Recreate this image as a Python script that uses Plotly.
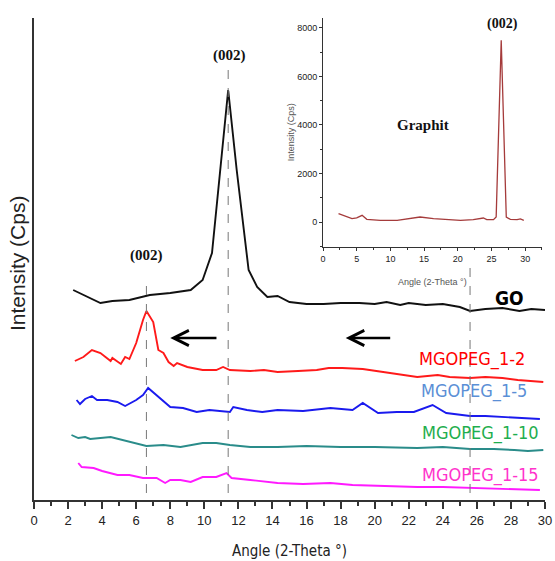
import plotly.graph_objects as go

# ---------------- data (intensity in arbitrary offset units) ----------------
go_x = [2.3, 3.0, 3.9, 4.6, 5.6, 6.8, 8.0, 9.2, 9.9, 10.45, 10.9, 11.4, 11.9, 12.6, 13.1, 13.7, 14.3, 15.0, 16.0,
        17.0, 18.0, 19.1, 20.0, 20.7, 21.5, 22.0, 23.0, 24.0, 25.0, 25.6, 26.5, 27.5, 28.5, 29.2, 30.0]
go_px = [290, 296, 303, 301, 300, 295, 293, 290, 280, 253, 177, 90, 170, 270, 287, 297, 296, 302, 304,
         304, 303, 303, 304, 302, 305, 303, 305, 304, 307, 311, 309, 308, 311, 309, 310]

red_x = [2.4, 2.9, 3.4, 3.9, 4.5, 4.6, 5.1, 5.35, 5.6, 6.0, 6.4, 6.6, 7.0, 7.3, 7.6, 7.9, 8.2, 8.4, 9.0, 9.9,
         10.7, 11.1, 11.5, 12.7, 13.5, 14.3, 15.5, 16.6, 17.3, 18.1, 19.3, 20.5, 21.7, 22.5, 23.7, 24.4, 25.6,
         26.5, 27.5, 28.4, 29.9]
red_px = [361, 357, 350, 353, 361, 358, 364, 357, 359, 343, 320, 311, 322, 350, 353, 362, 366, 363, 367, 370,
          370, 367, 370, 371, 370, 372, 371, 370, 368, 368, 369, 372, 375, 377, 375, 377, 378,
          377, 378, 380, 382]

blue_x = [2.5, 2.7, 3.0, 3.4, 3.7, 4.3, 4.9, 5.35, 6.0, 6.4, 6.7, 7.2, 8.0, 8.75, 9.55, 10.3, 11.5, 11.7, 12.5,
          13.4, 14.3, 15.8, 17.4, 18.7, 19.3, 20.2, 21.3, 22.3, 23.4, 24.2, 25.6, 26.5, 27.5, 28.6, 29.7]
blue_px = [400, 404, 399, 396, 400, 400, 402, 406, 400, 395, 388, 395, 407, 408, 412, 410, 412, 407, 410,
           412, 410, 411, 408, 410, 403, 413, 412, 412, 405, 413, 416, 416, 417, 418, 419]

teal_x = [2.2, 2.6, 3.0, 3.3, 4.5, 5.6, 6.6, 7.6, 8.6, 9.9, 10.7, 11.5, 12.7, 14.3, 16.0, 18.0, 20.0, 22.5,
          24.0, 25.6, 27.0, 28.2, 29.0, 29.9]
teal_px = [435, 438, 437, 439, 437, 442, 446, 445, 447, 443, 443, 445, 447, 447, 446, 447, 447, 448,
           447, 449, 449, 450, 451, 450]

mag_x = [2.6, 2.8, 3.5, 4.0, 4.9, 5.6, 6.4, 7.2, 7.7, 8.0, 8.6, 9.2, 9.9, 10.7, 11.3, 11.6, 12.7, 14.3, 15.8,
         17.4, 18.7, 20.5, 22.5, 24.0, 25.6, 27.5, 29.7]
mag_px = [463, 467, 468, 471, 475, 475, 478, 478, 483, 480, 480, 482, 477, 477, 473, 478, 480, 483, 484,
          483, 485, 486, 487, 487, 488, 489, 490]

# inset: graphite
gr_x = [2.3, 3.3, 4.3, 5.0, 5.8, 6.5, 8.5, 11.0, 13.4, 14.4, 16.4, 18.4, 20.4, 22.3, 23.8, 24.3, 25.3, 25.7,
        26.45, 27.2, 27.8, 28.8, 29.3, 29.8]
gr_y = [345, 235, 140, 170, 275, 110, 70, 70, 180, 205, 140, 95, 70, 95, 165, 95, 95, 205,
        7490, 205, 110, 95, 125, 70]

peak_positions = [6.6, 11.4, 25.6]
x_ticks = list(range(0, 31, 2))
inset_x_ticks = [0, 5, 10, 15, 20, 25, 30]
inset_y_ticks = [0, 2000, 4000, 6000, 8000]

BASE = 500  # offset used to convert read values


def conv(px):
    return [BASE - p for p in px]


fig = go.Figure()
series = [
    ("GO", go_x, go_px, "#111111"),
    ("MGOPEG_1-2", red_x, red_px, "#ff1a1a"),
    ("MGOPEG_1-5", blue_x, blue_px, "#1a1aee"),
    ("MGOPEG_1-10", teal_x, teal_px, "#2a8c8a"),
    ("MGOPEG_1-15", mag_x, mag_px, "#ff1aff"),
]
for name, xs, pxs, col in series:
    fig.add_trace(go.Scatter(x=xs, y=conv(pxs), mode="lines", name=name,
                             line=dict(color=col, width=1.9), showlegend=False))

fig.add_trace(go.Scatter(x=gr_x, y=gr_y, mode="lines", xaxis="x2", yaxis="y2",
                         line=dict(color="#a53b3b", width=1.3), showlegend=False))

# dashed reference lines
dash_tops = [500 - 277, 500 - 70, 500 - 268]
for xp, top in zip(peak_positions, dash_tops):
    fig.add_shape(type="line", x0=xp, x1=xp, y0=7, y1=top, xref="x", yref="y",
                  line=dict(color="#777777", width=1, dash="dash"))

cond = "DejaVu Sans Condensed, Liberation Sans, Arial"
sans = "Liberation Sans, Arial"
serif = "Liberation Serif, Times New Roman, serif"

ann = [
    dict(x=11.45, y=500 - 55, text="<b>(002)</b>", font=dict(family=serif, size=15, color="#111")),
    dict(x=6.6, y=500 - 255, text="<b>(002)</b>", font=dict(family=serif, size=15, color="#111")),
    dict(x=(509 - 34) / 17.03, y=500 - 298, text="<b>GO</b>", font=dict(family=cond, size=19, color="#000")),
    dict(x=(472 - 34) / 17.03, y=500 - 359, text="MGOPEG_1-2", font=dict(family=cond, size=18, color="#ff0000")),
    dict(x=(474 - 34) / 17.03, y=500 - 391, text="MGOPEG_1-5", font=dict(family=cond, size=18, color="#5b8fd6")),
    dict(x=(480 - 34) / 17.03, y=500 - 433, text="MGOPEG_1-10", font=dict(family=cond, size=18, color="#1fae4e")),
    dict(x=(480 - 34) / 17.03, y=500 - 475, text="MGOPEG_1-15", font=dict(family=cond, size=18, color="#ff33cc")),
]
for a in ann:
    fig.add_annotation(xref="x", yref="y", showarrow=False, **a)

# arrows
for head, tail in [(8.0, 10.8), (18.3, 21.0)]:
    fig.add_annotation(xref="x", yref="y", axref="x", ayref="y", x=head, y=162, ax=tail, ay=162,
                       text="", showarrow=True, arrowhead=5, arrowsize=1.2, arrowwidth=2.5, arrowcolor="#000")

# axis titles (placed explicitly)
fig.add_annotation(xref="paper", yref="paper", x=-0.031, y=0.49, text="Intensity (Cps)", textangle=-90,
                   xanchor="center", yanchor="middle",
                   showarrow=False, font=dict(family=sans, size=21, color="#222"))
fig.add_annotation(xref="paper", yref="paper", x=0.5, y=-0.106, text="Angle (2-Theta °)",
                   xanchor="center", yanchor="middle",
                   showarrow=False, font=dict(family=cond, size=15, color="#222"))
fig.add_annotation(xref="paper", yref="paper", x=0.503, y=0.763, text="Intensity (Cps)", textangle=-90,
                   xanchor="center", yanchor="middle",
                   showarrow=False, font=dict(family=sans, size=9, color="#555"))
fig.add_annotation(xref="paper", yref="paper", x=0.779, y=0.452, text="Angle (2-Theta °)",
                   xanchor="center", yanchor="middle",
                   showarrow=False, font=dict(family=sans, size=9, color="#555"))

# inset labels
fig.add_annotation(xref="x2", yref="y2", x=26.6, y=8150, text="<b>(002)</b>", showarrow=False,
                   font=dict(family=serif, size=14, color="#111"))
fig.add_annotation(xref="x2", yref="y2", x=14.9, y=4000, text="<b>Graphit</b>", showarrow=False,
                   font=dict(family=serif, size=15, color="#111"))

fig.update_layout(
    width=555, height=561,
    margin=dict(l=34, r=10, t=18, b=61, autoexpand=False),
    paper_bgcolor="white", plot_bgcolor="white",
    xaxis=dict(range=[0, 30], domain=[0, 1], tickvals=x_ticks, ticks="outside", ticklen=7, tickwidth=1.5,
               tickcolor="#333", showline=True, linecolor="#333", linewidth=2, showgrid=False, zeroline=False,
               automargin=False,
               minor=dict(dtick=1, ticks="outside", ticklen=4, tickwidth=1.5, tickcolor="#333"),
               tickfont=dict(family=sans, size=13, color="#222")),
    yaxis=dict(range=[0, 482], domain=[0, 1], showticklabels=False, ticks="", showline=True, linecolor="#333",
               linewidth=2, showgrid=False, zeroline=False, automargin=False),
    xaxis2=dict(range=[0, 32.5], domain=[0.5656, 0.9941], anchor="y2", tickvals=inset_x_ticks,
                ticks="outside", ticklen=3, tickcolor="#333", showline=True, linecolor="#333", linewidth=1,
                showgrid=False, zeroline=False, automargin=False,
                minor=dict(dtick=2.5, ticks="outside", ticklen=2, tickcolor="#333"),
                tickfont=dict(family=sans, size=9, color="#222")),
    yaxis2=dict(range=[-1031, 8412], domain=[0.5249, 1.0], anchor="x2", tickvals=inset_y_ticks,
                ticks="outside", ticklen=3, tickcolor="#333", showline=True, linecolor="#333", linewidth=1,
                showgrid=False, zeroline=False, automargin=False,
                minor=dict(dtick=1000, ticks="outside", ticklen=2, tickcolor="#333"),
                tickfont=dict(family=sans, size=9, color="#222")),
)

fig.write_html("out.html", config={"displayModeBar": False},
               post_script="document.body.style.margin='0';")
